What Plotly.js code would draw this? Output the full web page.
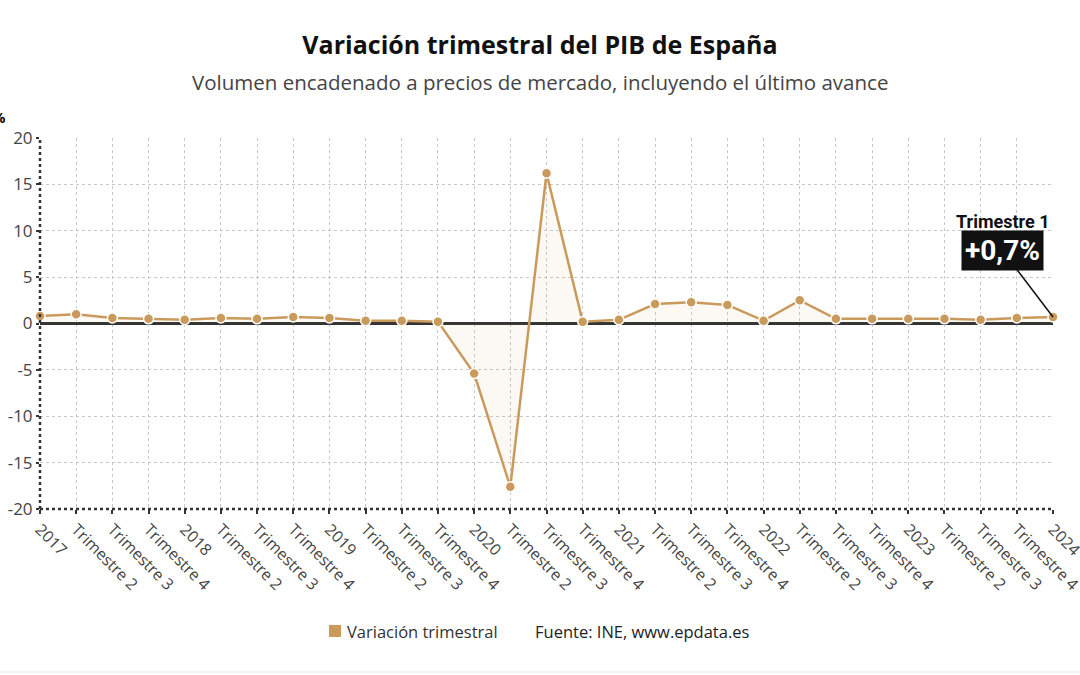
<!DOCTYPE html>
<html>
<head>
<meta charset="utf-8">
<script src="https://cdn.plot.ly/plotly-3.0.1.min.js"></script>
<style>html,body{margin:0;padding:0;background:#fff;}#chart{width:1080px;height:675px;}</style>
</head>
<body>
<div id="chart"></div>
<script>
const periods = ["2017-T1","2017-T2","2017-T3","2017-T4","2018-T1","2018-T2","2018-T3","2018-T4","2019-T1","2019-T2","2019-T3","2019-T4","2020-T1","2020-T2","2020-T3","2020-T4","2021-T1","2021-T2","2021-T3","2021-T4","2022-T1","2022-T2","2022-T3","2022-T4","2023-T1","2023-T2","2023-T3","2023-T4","2024-T1"];
const tickLabels = ["2017","Trimestre 2","Trimestre 3","Trimestre 4","2018","Trimestre 2","Trimestre 3","Trimestre 4","2019","Trimestre 2","Trimestre 3","Trimestre 4","2020","Trimestre 2","Trimestre 3","Trimestre 4","2021","Trimestre 2","Trimestre 3","Trimestre 4","2022","Trimestre 2","Trimestre 3","Trimestre 4","2023","Trimestre 2","Trimestre 3","Trimestre 4","2024"];
const variacion = [0.8,1.0,0.6,0.5,0.4,0.6,0.5,0.7,0.6,0.3,0.3,0.2,-5.4,-17.6,16.2,0.2,0.4,2.1,2.3,2.0,0.3,2.5,0.5,0.5,0.5,0.5,0.4,0.6,0.7];
const yTicks = [-20,-15,-10,-5,0,5,10,15,20];

const lineColor = "#c99a5b";
const lastIdx = periods.length - 1;

const trace = {
  x: periods, y: variacion, type: "scatter", mode: "lines+markers",
  name: "Variación trimestral",
  line: {color: lineColor, width: 2.5},
  marker: {color: lineColor, size: 10, line: {color: "#fff", width: 1.5}},
  fill: "tozeroy", fillcolor: "rgba(201,154,91,0.06)",
  cliponaxis: false, showlegend: false, hoverinfo: "x+y"
};

const layout = {
  width: 1080, height: 675,
  margin: {l: 40, r: 27, t: 138, b: 166},
  paper_bgcolor: "#fff", plot_bgcolor: "#fff",
  font: {family: "Open Sans, sans-serif", color: "#444"},
  title: {text: "<b>Variación trimestral del PIB de España</b>", font: {size: 25, color: "#111", family: "Open Sans, sans-serif"}, x: 0.5, xanchor: "center", y: 1 - 45/675, yanchor: "middle", yref: "container"},
  xaxis: {
    type: "category", range: [0, lastIdx],
    tickvals: periods, ticktext: tickLabels, tickangle: 45,
    tickfont: {size: 16, color: "#444"},
    showgrid: true, gridcolor: "#c8c8c8", griddash: "dot", gridwidth: 1,
    ticks: "outside", ticklen: 4, tickcolor: "#333", tickwidth: 2,
    showline: false, zeroline: false, fixedrange: true
  },
  yaxis: {
    range: [-20, 20], tickvals: yTicks, ticktext: yTicks.map(String),
    tickfont: {size: 17, color: "#444"},
    showgrid: true, gridcolor: "#c8c8c8", griddash: "dot", gridwidth: 1,
    zeroline: true, zerolinecolor: "#333", zerolinewidth: 2.5,
    ticks: "outside", ticklen: 3, tickcolor: "#333", tickwidth: 2,
    showline: false, fixedrange: true
  },
  shapes: [
    {type: "line", xref: "paper", yref: "paper", x0: 0, x1: 0, y0: 0, y1: 1, line: {color: "#333", width: 2.5, dash: "dot"}},
    {type: "line", xref: "paper", yref: "paper", x0: 0, x1: 1, y0: 0, y1: 0, line: {color: "#333", width: 2.5, dash: "dot"}},
    {type: "rect", xref: "paper", yref: "paper", x0: (329-40)/1013, x1: (341-40)/1013, y0: (509-637)/371, y1: (509-625)/371, fillcolor: lineColor, line: {width: 0}},
    {type: "line", xref: "paper", yref: "paper", x0: -40/1013, x1: 1 + 27/1013, y0: (509-672)/371, y1: (509-672)/371, line: {color: "#e6e6e6", width: 1}}
  ],
  annotations: [
    {text: "Volumen encadenado a precios de mercado, incluyendo el último avance", xref: "paper", yref: "paper", x: (540-40)/1013, y: 1 + (138-82)/371, xanchor: "center", yanchor: "middle", showarrow: false, font: {size: 20.5, color: "#444", family: "Open Sans, sans-serif"}},
    {text: "<b>%</b>", xref: "paper", yref: "paper", x: (8-40)/1013, y: 1 + (138-117)/371, xanchor: "right", yanchor: "middle", showarrow: false, font: {size: 15, color: "#111"}},
    {text: "Variación trimestral", xref: "paper", yref: "paper", x: (345-40)/1013, y: (509-631)/371, xanchor: "left", yanchor: "middle", showarrow: false, font: {size: 16.5, color: "#333"}},
    {text: "Fuente: INE, www.epdata.es", xref: "paper", yref: "paper", x: (533-40)/1013, y: (509-631)/371, xanchor: "left", yanchor: "middle", showarrow: false, font: {size: 16.5, color: "#222"}},
    {text: "<b>+0,7%</b>", x: periods[lastIdx], y: variacion[lastIdx], xref: "x", yref: "y",
     showarrow: true, arrowhead: 0, arrowwidth: 1.5, arrowcolor: "#111", ax: -51, ay: -67,
     bgcolor: "#111", borderpad: 3, font: {size: 28, color: "#fff", family: "Roboto, Liberation Sans, sans-serif"}},
    {text: "<b>Trimestre 1</b>", x: periods[lastIdx], y: variacion[lastIdx], xref: "x", yref: "y",
     showarrow: false, xshift: -50, yshift: 96, xanchor: "center", yanchor: "middle",
     font: {size: 18, color: "#111", family: "Roboto, Liberation Sans, sans-serif"}}
  ]
};

Plotly.newPlot("chart", [trace], layout, {displayModeBar: false, staticPlot: true});
</script>
</body>
</html>
